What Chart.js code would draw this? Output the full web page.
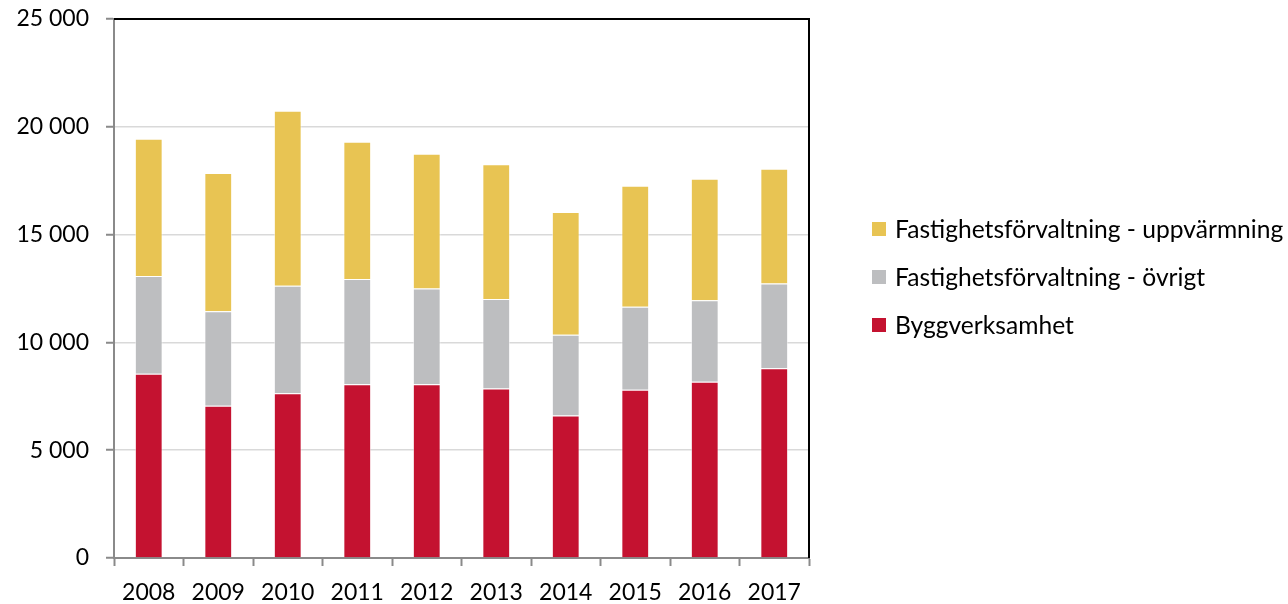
<!DOCTYPE html>
<html>
<head>
<meta charset="utf-8">
<script src="https://cdn.jsdelivr.net/npm/chart.js@4/dist/chart.umd.min.js"></script>
<style>
  html, body { margin: 0; padding: 0; background: #fff; }
  #wrap { width: 1288px; height: 604px; }
</style>
</head>
<body>
<div id="wrap"><canvas id="chart"></canvas></div>
<script>
// values
const years = ['2008', '2009', '2010', '2011', '2012', '2013', '2014', '2015', '2016', '2017'];
const byggverksamhet = [8550, 7060, 7640, 8060, 8060, 7860, 6610, 7800, 8170, 8800];
const ovrigt = [4530, 4380, 4990, 4880, 4440, 4150, 3750, 3850, 3790, 3930];
const uppvarmning = [6370, 6420, 8110, 6370, 6250, 6250, 5690, 5620, 5630, 5330];
const yTicks = [0, 5000, 10000, 15000, 20000, 25000];

const FONT = '"Liberation Sans Narrow", Lato, "Open Sans", sans-serif';
const axisGray = '#8a8a8a';

const fmt = (v) => String(v).replace(/\B(?=(\d{3})+(?!\d))/g, ' ');

// top + right frame lines and the legend on the right
const framePlugin = {
  id: 'frame',
  afterDraw(chart) {
    const { ctx, chartArea: a } = chart;
    ctx.save();
    ctx.strokeStyle = '#000';
    ctx.lineWidth = 2;
    ctx.beginPath();
    ctx.moveTo(a.left, a.top);
    ctx.lineTo(a.right, a.top);
    ctx.lineTo(a.right, a.bottom);
    ctx.stroke();

    // legend, top series first
    const sets = chart.data.datasets.slice().reverse();
    ctx.font = '24.6px ' + FONT;
    ctx.textBaseline = 'middle';
    sets.forEach((ds, i) => {
      const y = 229 + i * 48;
      ctx.fillStyle = ds.backgroundColor;
      ctx.fillRect(872, y - 7, 14, 14);
      ctx.fillStyle = '#000';
      ctx.fillText(ds.label, 895, y + 1);
    });
    ctx.restore();
  }
};

const ctx = document.getElementById('chart').getContext('2d');
new Chart(ctx, {
  type: 'bar',
  data: {
    labels: years,
    datasets: [
      {
        label: 'Byggverksamhet',
        data: byggverksamhet,
        backgroundColor: '#C41230',
        borderColor: 'rgba(255,255,255,0.5)',
        borderWidth: 1,
      },
      {
        label: 'Fastighetsförvaltning - övrigt',
        data: ovrigt,
        backgroundColor: '#BDBEC0',
        borderColor: 'rgba(255,255,255,0.5)',
        borderWidth: 1,
      },
      {
        label: 'Fastighetsförvaltning - uppvärmning',
        data: uppvarmning,
        backgroundColor: '#E8C453',
        borderColor: 'rgba(255,255,255,0.5)',
        borderWidth: 1,
      },
    ],
  },
  options: {
    responsive: true,
    maintainAspectRatio: false,
    animation: false,
    layout: {
      padding: { left: 0, right: 479, top: 19, bottom: 0 },
    },
    datasets: {
      bar: { categoryPercentage: 1, barPercentage: 0.4 },
    },
    scales: {
      x: {
        stacked: true,
        border: { color: axisGray, width: 2 },
        grid: {
          offset: true,
          drawOnChartArea: false,
          drawTicks: true,
          tickLength: 8,
          tickColor: axisGray,
          tickWidth: 2,
        },
        ticks: {
          color: '#000',
          padding: 13,
          maxRotation: 0,
          font: { family: FONT, size: 23 },
        },
        afterFit(scale) { scale.height = 46; },
      },
      y: {
        stacked: true,
        min: 0,
        max: 25000,
        border: { color: axisGray, width: 2 },
        grid: {
          color: '#d9d9d9',
          lineWidth: 1.5,
          tickLength: 8,
          tickColor: axisGray,
          tickWidth: 2,
        },
        ticks: {
          color: '#000',
          padding: 17,
          font: { family: FONT, size: 23 },
          callback: (v) => fmt(v),
        },
        afterBuildTicks(scale) {
          scale.ticks = yTicks.map((v) => ({ value: v }));
        },
        afterFit(scale) {
          scale.width = 114;
          scale.paddingTop = 0;
          scale.paddingBottom = 0;
        },
      },
    },
    plugins: {
      legend: { display: false },
      tooltip: { enabled: false },
    },
  },
  plugins: [framePlugin],
});
</script>
</body>
</html>
